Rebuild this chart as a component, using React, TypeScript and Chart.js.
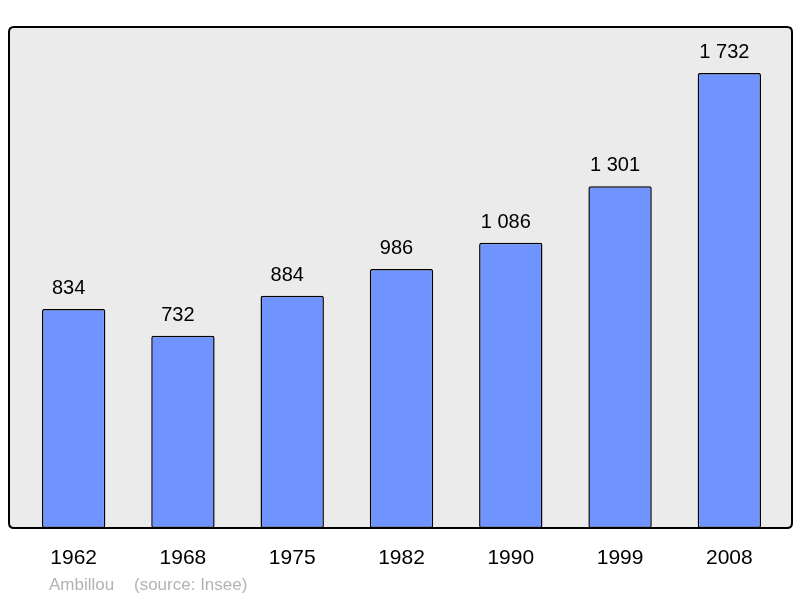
import React, { useEffect, useRef } from "react";
import { Chart, registerables } from "chart.js";

Chart.register(...registerables);

const years = ["1962", "1968", "1975", "1982", "1990", "1999", "2008"];
const population = [834, 732, 884, 986, 1086, 1301, 1732];
const valueLabels = ["834", "732", "884", "986", "1 086", "1 301", "1 732"];
const footerName = "Ambillou";
const footerSource = "(source: Insee)";

const FONT = '"Liberation Sans", Arial, sans-serif';

function roundRect(ctx: CanvasRenderingContext2D, x: number, y: number, w: number, h: number, r: number) {
  ctx.beginPath();
  ctx.moveTo(x + r, y);
  ctx.lineTo(x + w - r, y);
  ctx.quadraticCurveTo(x + w, y, x + w, y + r);
  ctx.lineTo(x + w, y + h - r);
  ctx.quadraticCurveTo(x + w, y + h, x + w - r, y + h);
  ctx.lineTo(x + r, y + h);
  ctx.quadraticCurveTo(x, y + h, x, y + h - r);
  ctx.lineTo(x, y + r);
  ctx.quadraticCurveTo(x, y, x + r, y);
  ctx.closePath();
}

const framePlugin = {
  id: "frame",
  beforeDatasetsDraw(chart: any) {
    const ctx = chart.ctx as CanvasRenderingContext2D;
    const yb = chart.scales.y.getPixelForValue(0);
    ctx.save();
    roundRect(ctx, 9, 27, 783, yb - 27, 5);
    ctx.fillStyle = "#ebebeb";
    ctx.fill();
    ctx.restore();
  },
  afterDatasetsDraw(chart: any) {
    const ctx = chart.ctx as CanvasRenderingContext2D;
    const xs = chart.scales.x;
    const ys = chart.scales.y;
    const yb = ys.getPixelForValue(0);
    ctx.save();
    roundRect(ctx, 9, 27, 783, yb - 27, 5);
    ctx.lineWidth = 2;
    ctx.strokeStyle = "#000";
    ctx.stroke();

    ctx.fillStyle = "#000";
    ctx.textAlign = "center";
    ctx.textBaseline = "alphabetic";
    ctx.font = `20px ${FONT}`;
    population.forEach((v, i) => {
      const x = xs.getPixelForValue(i);
      const y = ys.getPixelForValue(v);
      ctx.fillText(valueLabels[i], x - 5, y - 15);
    });

    ctx.font = `21px ${FONT}`;
    years.forEach((yr, i) => {
      const x = xs.getPixelForValue(i);
      ctx.fillText(yr, x, yb + 36);
    });

    ctx.textAlign = "left";
    ctx.fillStyle = "#b3b3b3";
    ctx.font = `17px ${FONT}`;
    ctx.fillText(footerName, 49, yb + 62);
    ctx.fillText(footerSource, 134, yb + 62);
    ctx.restore();
  },
};

export default function App() {
  const ref = useRef<HTMLCanvasElement | null>(null);
  useEffect(() => {
    if (!ref.current) return;
    const chart = new Chart(ref.current, {
      type: "bar",
      data: {
        labels: years,
        datasets: [
          {
            data: population,
            backgroundColor: "#7094ff",
            borderColor: "#000",
            borderWidth: 1.5,
            borderRadius: 2,
            borderSkipped: false,
            barPercentage: 0.58,
            categoryPercentage: 1,
          },
        ],
      },
      options: {
        responsive: false,
        animation: false,
        layout: { padding: { left: 19, right: 16, top: 27, bottom: 70 } },
        plugins: { legend: { display: false }, tooltip: { enabled: false } },
        scales: {
          x: { display: false },
          y: { display: false, min: 0, max: 1907 },
        },
      },
      plugins: [framePlugin],
    });
    return () => chart.destroy();
  }, []);
  return (
    <div style={{ position: "fixed", left: 0, top: 0, width: 800, height: 598, background: "#fff" }}>
      <canvas ref={ref} width={800} height={598} />
    </div>
  );
}
